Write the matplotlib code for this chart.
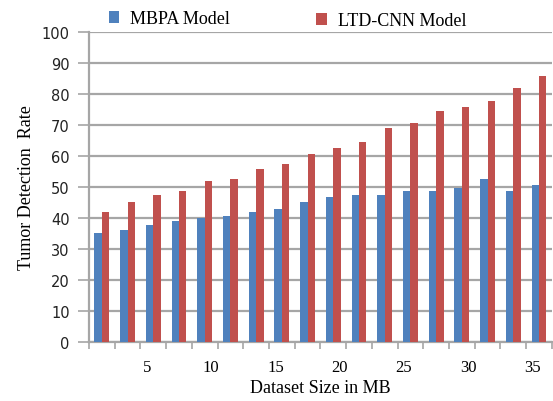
import numpy as np
import matplotlib.pyplot as plt

# tumor detection rate per dataset size group (18 groups, 2 MB wide)
groups = np.arange(1, 19)
mbpa = [35, 36, 37.6, 38.9, 40, 40.6, 42, 42.8, 45, 46.6, 47.5, 47.5, 48.8, 48.8, 49.8, 52.7, 48.8, 50.5]
ltd_cnn = [42, 45, 47.5, 48.8, 51.8, 52.7, 55.8, 57.5, 60.5, 62.7, 64.5, 68.9, 70.6, 74.6, 75.9, 77.6, 81.9, 85.9]
xtick_labels = [5, 10, 15, 20, 25, 30, 35]
ytick_values = list(range(0, 101, 10))

serif = 'Liberation Serif'
grid_col = '#a6a6a6'

fig = plt.figure(figsize=(5.53, 4.02), dpi=100)
ax = fig.add_axes([0.161, 0.147, 0.837, 0.771])

centers = 2 * groups - 0.5
w = 0.58
b1 = ax.bar(centers - w / 2, mbpa, width=w, color='#4f81bd', zorder=3)
b2 = ax.bar(centers + w / 2, ltd_cnn, width=w, color='#c0504d', zorder=3)

ax.set_xlim(0.5, 36.5)
ax.set_ylim(0, 100)
ax.set_yticks(ytick_values)
ax.yaxis.grid(True, color=grid_col, linewidth=1.6, zorder=0)
ax.set_axisbelow(True)

# category boundary ticks, value labels without ticks
ax.set_xticks(np.arange(0.5, 36.6, 2), minor=True)
ax.set_xticks(xtick_labels)
ax.set_xticklabels([str(v) for v in xtick_labels], fontfamily=serif, fontsize=12)
ax.tick_params(axis='x', which='major', length=0, pad=12)
ax.tick_params(axis='x', which='minor', length=5, width=1.2, color=grid_col)
ax.tick_params(axis='y', length=8, width=1.2, color=grid_col, labelsize=10.5, pad=6,
               labelcolor='#222222')

for s in ['top', 'right']:
    ax.spines[s].set_visible(False)
for s in ['left', 'bottom']:
    ax.spines[s].set_color(grid_col)
    ax.spines[s].set_linewidth(1.6)

ax.set_xlabel('Dataset Size in MB', fontfamily=serif, fontsize=13, labelpad=3)
ax.set_ylabel('Tumor Detection  Rate', fontfamily=serif, fontsize=13, labelpad=5)

fig.legend([b1], ['MBPA Model'], loc='upper left', bbox_to_anchor=(0.167, 1.012),
           frameon=False, prop={'family': serif, 'size': 13},
           handlelength=0.6, handleheight=0.6, handletextpad=0.6)
fig.legend([b2], ['LTD-CNN Model'], loc='upper left', bbox_to_anchor=(0.542, 1.007),
           frameon=False, prop={'family': serif, 'size': 13},
           handlelength=0.6, handleheight=0.6, handletextpad=0.6)

fig.savefig('out.png', dpi=100)
